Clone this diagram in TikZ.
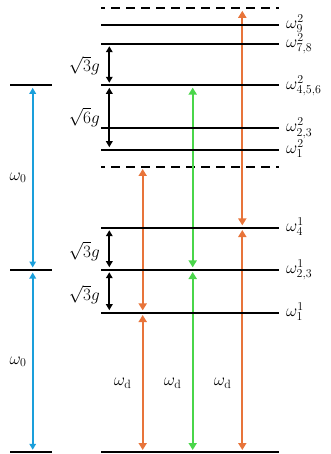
\documentclass[tikz,border=0pt]{standalone}
\usetikzlibrary{arrows.meta}
\definecolor{cblue}{HTML}{1A9FDB}
\definecolor{corange}{HTML}{E8743A}
\definecolor{cgreen}{HTML}{4AD64A}
\begin{document}
\begin{tikzpicture}[x=1pt,y=-1pt,
  lvl/.style={line width=2.3pt},
  lvlleft/.style={line width=1.8pt},
  dlvl/.style={line width=2pt, dash pattern=on 9pt off 6pt, dash phase=5pt},
  carr/.style={line width=2pt, {Triangle[width=8pt,length=7pt]}-{Triangle[width=8pt,length=7pt]}, shorten <=2.3pt, shorten >=2.3pt},
  barr/.style={line width=2pt, {Triangle[width=6.5pt,length=6pt]}-{Triangle[width=6.5pt,length=6pt]}, shorten <=2.5pt, shorten >=2.5pt},
  karr/.style={line width=2pt, {Triangle[width=6.5pt,length=6pt]}-{Triangle[width=6.5pt,length=6pt]}, shorten <=2.5pt, shorten >=2.5pt},
  lab/.style={inner sep=0pt, font=\LARGE}]
\useasboundingbox (0,0) rectangle (330,454);
% level end points (right ladder)
\coordinate (D2l) at (101,8.5);   \coordinate (D2r) at (279,8.5);
\coordinate (B9l) at (101,24.7);  \coordinate (B9r) at (279,24.7);
\coordinate (B78l) at (101,43.7); \coordinate (B78r) at (279,43.7);
\coordinate (B456l) at (101,85.3);\coordinate (B456r) at (279,85.3);
\coordinate (B23l) at (101,128);  \coordinate (B23r) at (279,128);
\coordinate (B1l) at (101,149.7); \coordinate (B1r) at (279,149.7);
\coordinate (D1l) at (101,166.7); \coordinate (D1r) at (279,166.7);
\coordinate (A4l) at (101,227.7); \coordinate (A4r) at (279,227.7);
\coordinate (A23l) at (101,269.7);\coordinate (A23r) at (279,269.7);
\coordinate (A1l) at (101,312.7); \coordinate (A1r) at (279,312.7);
\coordinate (Gl) at (101,452.3);  \coordinate (Gr) at (279,452.3);
% left ladder
\coordinate (Ltl) at (10,85.3);  \coordinate (Ltr) at (52,85.3);
\coordinate (Lml) at (10,270);   \coordinate (Lmr) at (52,270);
\coordinate (Lbl) at (10,452.3); \coordinate (Lbr) at (52,452.3);
% arrow columns
\coordinate (xb) at (32.7,0);
\coordinate (xk) at (109.3,0);
\coordinate (xo) at (142.7,0);
\coordinate (xg) at (192.7,0);
\coordinate (xr) at (242.3,0);

% dashed levels
\draw[dlvl] (D2l) -- (D2r);
\draw[dlvl] (D1l) -- (D1r);

% arrows
\draw[barr, cblue] (xb |- Lml) -- (xb |- Ltl);
\draw[barr, cblue] (xb |- Lbl) -- (xb |- Lml);
\draw[carr, corange] (xo |- A1l) -- (xo |- D1l);
\draw[carr, corange] (xo |- Gl) -- (xo |- A1l);
\draw[carr, cgreen] (xg |- A23l) -- (xg |- B456l);
\draw[carr, cgreen] (xg |- Gl) -- (xg |- A23l);
\draw[carr, corange] (xr |- A4l) -- (xr |- D2l);
\draw[carr, corange] (xr |- Gl) -- (xr |- A4l);
\draw[karr] (xk |- B456l) -- (xk |- B78l);
\draw[karr] (xk |- B1l) -- (xk |- B456l);
\draw[karr] (xk |- A23l) -- (xk |- A4l);
\draw[karr] (xk |- A1l) -- (xk |- A23l);

% solid levels
\foreach \n in {B9,B78,B456,B23,B1,A4,A23,A1,G}{\draw[lvl] (\n l) -- (\n r);}
\draw[lvlleft] (Ltl) -- (Ltr);
\draw[lvlleft] (Lml) -- (Lmr);
\draw[lvl] (Lbl) -- (Lbr);

% labels right
\node[lab, anchor=base west] (t9) at (286,28.7) {$\omega_9^2$};
\node[lab, anchor=base west] (t78) at (286,47.7) {$\omega_{7,8}^2$};
\node[lab, anchor=base west] (t456) at (286,89.3) {$\omega_{4,5,6}^2$};
\node[lab, anchor=base west] (t23b) at (286,132) {$\omega_{2,3}^2$};
\node[lab, anchor=base west] (t1b) at (286,153.7) {$\omega_1^2$};
\node[lab, anchor=base west] (t4a) at (286,231.7) {$\omega_4^1$};
\node[lab, anchor=base west] (t23a) at (286,273.7) {$\omega_{2,3}^1$};
\node[lab, anchor=base west] (t1a) at (286,316.7) {$\omega_1^1$};
% coupling labels
\node[lab, anchor=base east] (g1) at (100,71.7) {$\sqrt{3}g$};
\node[lab, anchor=base east] (g2) at (100,123.3) {$\sqrt{6}g$};
\node[lab, anchor=base east] (g3) at (100,257.3) {$\sqrt{3}g$};
\node[lab, anchor=base east] (g4) at (100,300.7) {$\sqrt{3}g$};
% frequency labels
\node[lab, anchor=base] (w0a) at (18,180) {$\omega_0$};
\node[lab, anchor=base] (w0b) at (18,364) {$\omega_0$};
\node[lab, anchor=base] (wd1) at (122.7,385.5) {$\omega_{\mathrm{d}}$};
\node[lab, anchor=base] (wd2) at (172.7,385.5) {$\omega_{\mathrm{d}}$};
\node[lab, anchor=base] (wd3) at (222.7,385.5) {$\omega_{\mathrm{d}}$};
\end{tikzpicture}
\end{document}
